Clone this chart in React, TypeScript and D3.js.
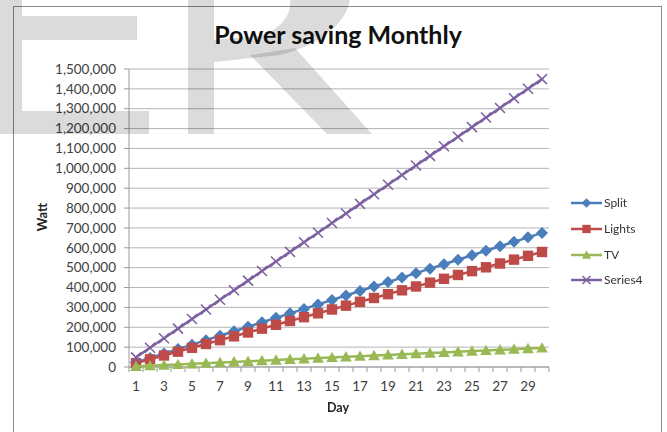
import React from "react";
import * as d3 from "d3";

const days = d3.range(1, 31);
const split = [22500, 45000, 67500, 90000, 112500, 135000, 157500, 180000, 202500, 225000, 247500, 270000, 292500, 315000, 337500, 360000, 382500, 405000, 427500, 450000, 472500, 495000, 517500, 540000, 562500, 585000, 607500, 630000, 652500, 675000];
const lights = [19300, 38600, 57900, 77200, 96500, 115800, 135100, 154400, 173700, 193000, 212300, 231600, 250900, 270200, 289500, 308800, 328100, 347400, 366700, 386000, 405300, 424600, 443900, 463200, 482500, 501800, 521100, 540400, 559700, 579000];
const tv = [3200, 6400, 9600, 12800, 16000, 19200, 22400, 25600, 28800, 32000, 35200, 38400, 41600, 44800, 48000, 51200, 54400, 57600, 60800, 64000, 67200, 70400, 73600, 76800, 80000, 83200, 86400, 89600, 92800, 96000];
const series4 = [48300, 96600, 144900, 193200, 241500, 289800, 338100, 386400, 434700, 483000, 531300, 579600, 627900, 676200, 724500, 772800, 821100, 869400, 917700, 966000, 1014300, 1062600, 1110900, 1159200, 1207500, 1255800, 1304100, 1352400, 1400700, 1449000];
const yTicks = d3.range(0, 1500001, 100000);
const seriesNames = ["Split", "Lights", "TV", "Series4"];

const W = 667, H = 432;
const plot = { left: 129, right: 549, top: 69, bottom: 367 };
const font = "Lato, 'Open Sans', sans-serif";

const colors = ["#4A7EBB", "#BE4B48", "#98B954", "#7D60A0"];
const seriesData = [split, lights, tv, series4];

function Marker({ kind, x, y, color, scale = 1 }: { kind: number; x: number; y: number; color: string; scale?: number }) {
  if (kind === 0) {
    const s = 6 * scale;
    return <path d={`M${x},${y - s}L${x + s},${y}L${x},${y + s}L${x - s},${y}Z`} fill={color} />;
  }
  if (kind === 1) {
    const s = 5.2 * scale;
    return <rect x={x - s} y={y - s} width={2 * s} height={2 * s} fill={color} />;
  }
  if (kind === 2) {
    const s = 5.8 * scale;
    return <path d={`M${x},${y - s}L${x + s},${y + s * 0.8}L${x - s},${y + s * 0.8}Z`} fill={color} />;
  }
  const s = 5 * scale;
  return (
    <path d={`M${x - s},${y - s}L${x + s},${y + s}M${x - s},${y + s}L${x + s},${y - s}`} stroke={color} strokeWidth={1.5} fill="none" />
  );
}

export default function App() {
  const x = d3.scaleBand<number>().domain(days).range([plot.left, plot.right]).padding(0);
  const y = d3.scaleLinear().domain([0, 1500000]).range([plot.bottom, plot.top]);
  const fmt = d3.format(",");
  const cx = (d: number) => (x(d) as number) + x.bandwidth() / 2;
  const line = d3.line<number>().x((_, i) => cx(days[i])).y((v) => y(v));

  const legendY = [203, 229, 255, 280];

  return (
    <svg width={W} height={H} style={{ position: "fixed", left: 0, top: 0 }} xmlns="http://www.w3.org/2000/svg">
      <rect x={0} y={0} width={W} height={H} fill="#fff" />
      <rect x={13.5} y={6.5} width={648} height={440} fill="#fff" stroke="#8a8a8a" strokeWidth={1} />
      <text x={338} y={44} textAnchor="middle" fontFamily={font} fontWeight="bold" fontSize={25} fill="#111">
        Power saving Monthly
      </text>
      {yTicks.map((t) => (
        <g key={t}>
          <line x1={plot.left} x2={plot.right} y1={y(t)} y2={y(t)} stroke="#b4b4b4" strokeWidth={1} />
          <line x1={plot.left - 5} x2={plot.left} y1={y(t)} y2={y(t)} stroke="#9a9a9a" strokeWidth={1} />
          <text x={116} y={y(t)} dy="0.35em" textAnchor="end" fontFamily={font} fontSize={13.5} fill="#404040">
            {fmt(t)}
          </text>
        </g>
      ))}
      <line x1={plot.left} x2={plot.left} y1={plot.top} y2={plot.bottom} stroke="#9a9a9a" strokeWidth={1} />
      <line x1={plot.left} x2={plot.right} y1={plot.bottom} y2={plot.bottom} stroke="#9a9a9a" strokeWidth={1} />
      {days.map((d) => (
        <line key={"t" + d} x1={(x(d) as number) + x.bandwidth()} x2={(x(d) as number) + x.bandwidth()} y1={plot.bottom} y2={plot.bottom + 5} stroke="#9a9a9a" />
      ))}
      <line x1={plot.left} x2={plot.left} y1={plot.bottom} y2={plot.bottom + 5} stroke="#9a9a9a" />
      {days.filter((d) => d % 2 === 1).map((d) => (
        <text key={"l" + d} x={cx(d)} y={386} dy="0.35em" textAnchor="middle" fontFamily={font} fontSize={13.5} fill="#404040">
          {d}
        </text>
      ))}
      <text transform={`translate(42,217) rotate(-90)`} textAnchor="middle" dy="0.35em" fontFamily={font} fontWeight="bold" fontSize={13} fill="#222">
        Watt
      </text>
      <text x={338} y={408} dy="0.35em" textAnchor="middle" fontFamily={font} fontWeight="bold" fontSize={12.5} fill="#222">
        Day
      </text>
      {seriesData.map((vals, si) => (
        <g key={si}>
          <path d={line(vals) || ""} fill="none" stroke={colors[si]} strokeWidth={2.5} />
          {vals.map((v, i) => (
            <Marker key={i} kind={si} x={cx(days[i])} y={y(v)} color={colors[si]} />
          ))}
        </g>
      ))}
      {seriesNames.map((n, si) => (
        <g key={n}>
          <line x1={571} x2={602} y1={legendY[si]} y2={legendY[si]} stroke={colors[si]} strokeWidth={2.5} />
          <Marker kind={si} x={586.5} y={legendY[si]} color={colors[si]} scale={0.8} />
          <text x={604} y={legendY[si]} dy="0.35em" fontFamily={font} fontSize={12} fill="#333">
            {n}
          </text>
        </g>
      ))}
      <g fill="#000" fillOpacity={0.14}>
        <rect x={0} y={0} width={22} height={134} />
        <rect x={22} y={16} width={115} height={24} />
        <rect x={22} y={111} width={127} height={23} />
        <rect x={188} y={0} width={26} height={134} />
        <path d="M290,0 L350,0 C345,25 320,45 280,55 L214,62 L214,40 L260,36 C280,30 292,15 290,0 Z" />
        <path d="M250,55 L295,48 L372,134 L327,134 Z" />
      </g>
    </svg>
  );
}
